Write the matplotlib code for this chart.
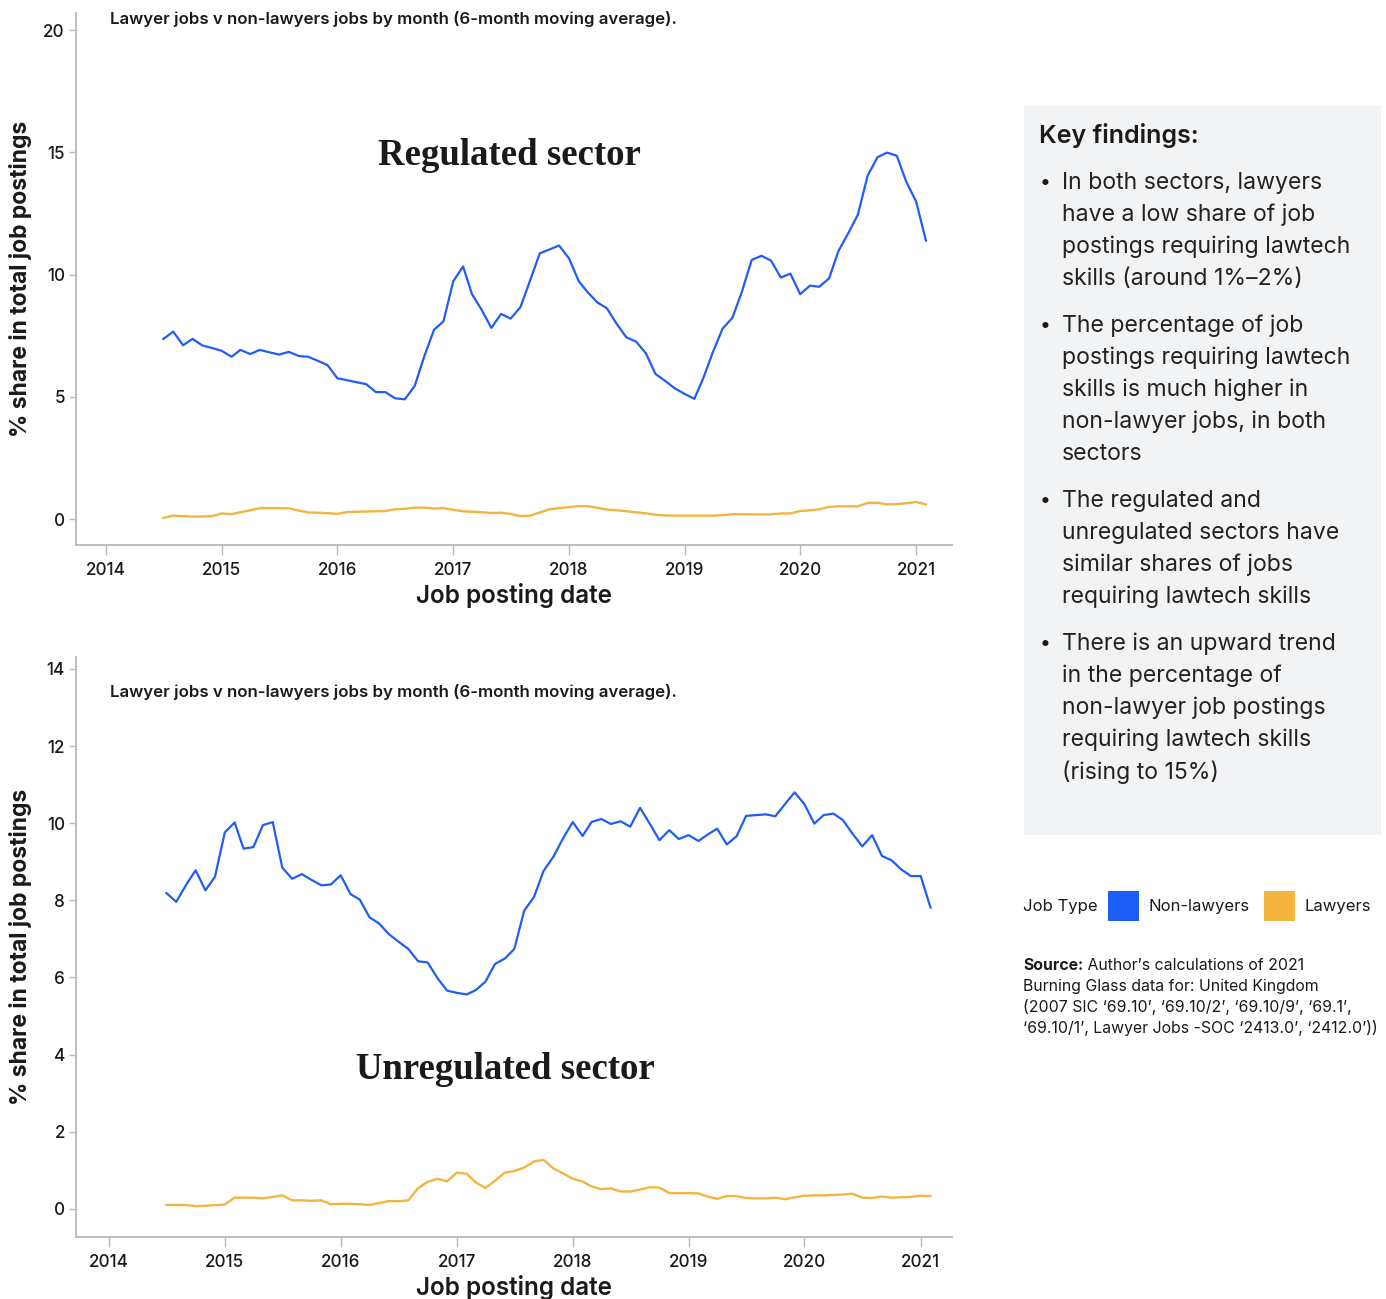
import matplotlib; matplotlib.use("Agg")
import matplotlib.pyplot as plt
import matplotlib.dates as mdates
import pandas as pd
import numpy as np

plt.rcParams["font.family"] = ["Inter", "DejaVu Sans"]

BLUE = "#1f5ef6"; GOLD = "#f4b43f"; INK = "#1a1a1a"; AXC = "#b6b8bf"; PANEL = "#f2f3f5"

# monthly points, Jul 2014 .. Feb 2021
months = pd.date_range("2014-07-01", periods=80, freq="MS")

reg_nonlawyers = [7.37, 7.67, 7.11, 7.37, 7.10, 7.00, 6.88, 6.64, 6.92, 6.75,
                  6.92, 6.82, 6.73, 6.84, 6.67, 6.64, 6.47, 6.30, 5.76, 5.68,
                  5.60, 5.52, 5.20, 5.19, 4.94, 4.90, 5.44, 6.64, 7.74, 8.09,
                  9.73, 10.33, 9.20, 8.55, 7.82, 8.39, 8.20, 8.67, 9.78, 10.87,
                  11.03, 11.19, 10.67, 9.73, 9.28, 8.86, 8.62, 7.98, 7.44, 7.26,
                  6.78, 5.94, 5.65, 5.35, 5.12, 4.92, 5.76, 6.85, 7.79, 8.23,
                  9.30, 10.60, 10.77, 10.57, 9.88, 10.04, 9.20, 9.55, 9.50, 9.84,
                  10.97, 11.70, 12.45, 14.05, 14.80, 14.99, 14.86, 13.79, 12.99, 11.39]
reg_lawyers = [0.05, 0.14, 0.12, 0.10, 0.11, 0.12, 0.23, 0.20, 0.28, 0.36,
               0.45, 0.45, 0.45, 0.44, 0.35, 0.27, 0.26, 0.24, 0.21, 0.29,
               0.30, 0.31, 0.32, 0.33, 0.40, 0.42, 0.47, 0.47, 0.43, 0.45,
               0.38, 0.32, 0.30, 0.28, 0.25, 0.26, 0.21, 0.12, 0.14, 0.27,
               0.40, 0.45, 0.49, 0.53, 0.53, 0.46, 0.39, 0.36, 0.32, 0.28,
               0.23, 0.18, 0.15, 0.14, 0.14, 0.14, 0.14, 0.14, 0.16, 0.20,
               0.20, 0.19, 0.19, 0.19, 0.23, 0.23, 0.33, 0.36, 0.40, 0.50,
               0.52, 0.52, 0.52, 0.66, 0.67, 0.60, 0.61, 0.65, 0.70, 0.60]
unreg_nonlawyers = [8.19, 7.96, 8.40, 8.78, 8.26, 8.61, 9.76, 10.02, 9.34, 9.38,
                    9.95, 10.03, 8.85, 8.56, 8.68, 8.53, 8.39, 8.41, 8.65, 8.16,
                    8.02, 7.56, 7.40, 7.12, 6.93, 6.74, 6.42, 6.39, 5.98, 5.66,
                    5.60, 5.56, 5.67, 5.89, 6.35, 6.49, 6.74, 7.73, 8.09, 8.76,
                    9.13, 9.60, 10.03, 9.67, 10.03, 10.11, 9.98, 10.05, 9.91, 10.40,
                    9.98, 9.56, 9.82, 9.59, 9.69, 9.54, 9.70, 9.86, 9.45, 9.66,
                    10.19, 10.21, 10.23, 10.18, 10.50, 10.80, 10.49, 9.99, 10.21, 10.25,
                    10.08, 9.72, 9.40, 9.69, 9.15, 9.04, 8.80, 8.63, 8.63, 7.81]
unreg_lawyers = [0.10, 0.10, 0.10, 0.07, 0.08, 0.10, 0.11, 0.29, 0.29, 0.29,
                 0.27, 0.31, 0.35, 0.22, 0.22, 0.21, 0.22, 0.12, 0.13, 0.13,
                 0.12, 0.10, 0.15, 0.20, 0.20, 0.22, 0.54, 0.70, 0.78, 0.71,
                 0.94, 0.91, 0.69, 0.54, 0.73, 0.94, 0.98, 1.07, 1.23, 1.27,
                 1.05, 0.92, 0.78, 0.71, 0.58, 0.51, 0.53, 0.45, 0.45, 0.50,
                 0.56, 0.55, 0.41, 0.41, 0.41, 0.40, 0.32, 0.26, 0.33, 0.33,
                 0.28, 0.27, 0.27, 0.29, 0.25, 0.30, 0.34, 0.35, 0.35, 0.36,
                 0.37, 0.39, 0.29, 0.28, 0.32, 0.29, 0.30, 0.31, 0.34, 0.33]

top_yticks = [0, 5, 10, 15, 20]
bot_yticks = [0, 2, 4, 6, 8, 10, 12, 14]
year_ticks = [pd.Timestamp(f"{y}-01-01") for y in range(2014, 2022)]
title = "Lawyer jobs v non-lawyers jobs by month (6-month moving average)."

findings = [
    ["In both sectors, lawyers", "have a low share of job", "postings requiring lawtech", "skills (around 1%\u20132%)"],
    ["The percentage of job", "postings requiring lawtech", "skills is much higher in", "non-lawyer jobs, in both", "sectors"],
    ["The regulated and", "unregulated sectors have", "similar shares of jobs", "requiring lawtech skills"],
    ["There is an upward trend", "in the percentage of", "non-lawyer job postings", "requiring lawtech skills", "(rising to 15%)"],
]
source_lines = ["Author\u2019s calculations of 2021",
                "Burning Glass data for: United Kingdom",
                "(2007 SIC \u201869.10\u2019, \u201869.10/2\u2019, \u201869.10/9\u2019, \u201869.1\u2019,",
                "\u201869.10/1\u2019, Lawyer Jobs -SOC \u20182413.0\u2019, \u20182412.0\u2019))"]

W, H = 1386, 1299
fig = plt.figure(figsize=(W/100, H/100), dpi=100)

def px(x, y):
    return x / W, 1 - y / H

def style(ax, ylim, yticks, xl, xr, lab_y):
    ax.set_ylim(*ylim); ax.set_yticks(yticks)
    ax.set_xlim(mdates.date2num(pd.Timestamp("2014-01-01")) - xl * 365.25,
                mdates.date2num(pd.Timestamp("2021-01-01")) + xr * 365.25)
    ax.set_xticks(year_ticks)
    ax.xaxis.set_major_formatter(mdates.DateFormatter("%Y"))
    for s in ["top", "right"]:
        ax.spines[s].set_visible(False)
    for s in ["left", "bottom"]:
        ax.spines[s].set_color(AXC); ax.spines[s].set_linewidth(1.3)
    ax.tick_params(axis="both", colors=AXC, labelcolor=INK, labelsize=12.3, width=1)
    ax.tick_params(axis="y", length=5, pad=3)
    ax.tick_params(axis="x", length=7, pad=5)
    for lab in ax.get_xticklabels() + ax.get_yticklabels():
        lab.set_fontweight("medium")
    ax.set_ylabel("% share in total job postings", fontsize=16.5, fontweight="bold", color=INK)
    ax.yaxis.set_label_coords(-0.050, 0.5)
    ax.set_xlabel("Job posting date", fontsize=17.5, fontweight="semibold", color=INK)
    ax.xaxis.set_label_coords(0.5, lab_y)

# top panel: regulated
l, b = px(76, 545); r, t = px(952, 13)
ax1 = fig.add_axes([l, b, r - l, t - b])
ax1.plot(months, reg_lawyers, color=GOLD, lw=1.7, zorder=2)
ax1.plot(months, reg_nonlawyers, color=BLUE, lw=1.6, zorder=3)
style(ax1, (-1.06, 20.7), top_yticks, 0.26, 0.31, -0.072)
ax1.text(0.495, 0.733, "Regulated sector", transform=ax1.transAxes, ha="center", va="center",
         family=["Liberation Serif", "DejaVu Serif"], fontweight="bold", fontsize=26.5, color=INK)
fig.text(*px(110, 19), title, ha="left", va="center", fontsize=12.15, fontweight="semibold", color=INK)

# bottom panel: unregulated
l, b = px(76, 1237); r, t = px(952, 657)
ax2 = fig.add_axes([l, b, r - l, t - b])
ax2.plot(months, unreg_lawyers, color=GOLD, lw=1.7, zorder=2)
ax2.plot(months, unreg_nonlawyers, color=BLUE, lw=1.6, zorder=3)
style(ax2, (-0.73, 14.31), bot_yticks, 0.284, 0.27, -0.066)
ax2.text(0.490, 0.288, "Unregulated sector", transform=ax2.transAxes, ha="center", va="center",
         family=["Liberation Serif", "DejaVu Serif"], fontweight="bold", fontsize=26.5, color=INK)
fig.text(*px(110, 692), title, ha="left", va="center", fontsize=12.15, fontweight="semibold", color=INK)

# key findings panel
x0, y0 = px(1024, 835); x1, y1 = px(1381, 106)
fig.patches.append(plt.Rectangle((x0, y0), x1 - x0, y1 - y0, transform=fig.transFigure,
                                 facecolor=PANEL, edgecolor="none", zorder=0))
fig.text(*px(1039, 136), "Key findings:", ha="left", va="center", fontsize=18,
         fontweight="semibold", color=INK)
yy = 183
for block in findings:
    fig.text(*px(1040, yy), "\u2022", ha="left", va="center", fontsize=14, color=INK)
    for line in block:
        fig.text(*px(1062, yy), line, ha="left", va="center", fontsize=16.6, color="#222222")
        yy += 32
    yy += 15

# legend
fig.text(*px(1023, 907), "Job Type", ha="left", va="center", fontsize=12, color=INK)
for sx, col, lab in [(1108, BLUE, "Non-lawyers"), (1264, GOLD, "Lawyers")]:
    a, bb = px(sx, 921); c, d = px(sx + 31, 891)
    fig.patches.append(plt.Rectangle((a, bb), c - a, d - bb, transform=fig.transFigure,
                                     facecolor=col, edgecolor="none"))
    fig.text(*px(sx + 40, 907), lab, ha="left", va="center", fontsize=12, color=INK)

# source note
st = fig.text(*px(1023, 965), "Source:", ha="left", va="center", fontsize=11.4,
              fontweight="bold", color=INK)
ax1.annotate(" " + source_lines[0], xy=(1, 0), xycoords=st, ha="left", va="bottom",
             fontsize=11.4, color=INK, annotation_clip=False)
for i, line in enumerate(source_lines[1:]):
    fig.text(*px(1023, 986 + 21 * i), line, ha="left", va="center", fontsize=11.4, color=INK)

fig.savefig("out.png", dpi=100)
